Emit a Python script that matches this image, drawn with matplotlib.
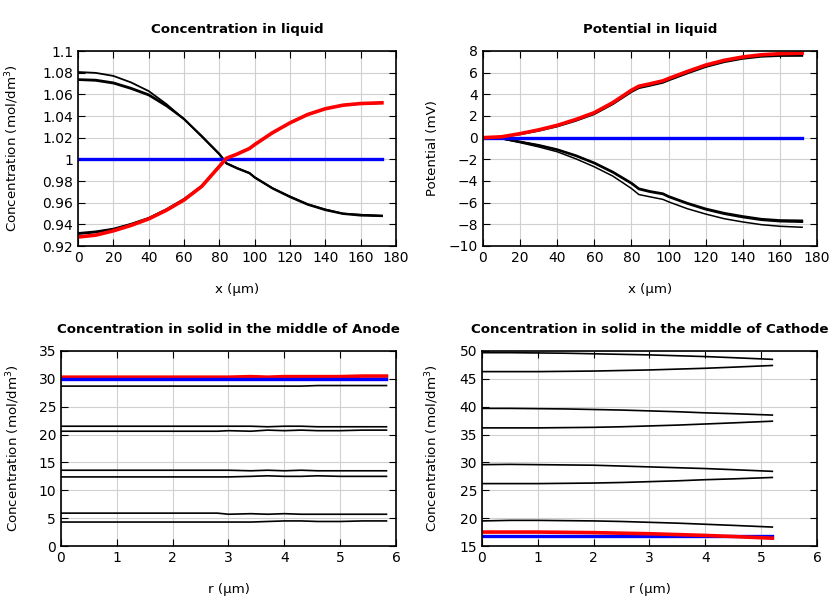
import matplotlib.pyplot as plt
import numpy as np

# --- liquid phase, x in um ---
x_liq = [0, 10, 20, 30, 40, 50, 60, 70, 80, 84, 90, 97, 100, 110, 120, 130, 140, 150, 160, 172]

conc_black_top = [1.0806, 1.0798, 1.0770, 1.0710, 1.0630, 1.0510, 1.0370, 1.0215, 1.0050, 0.9965, 0.9920, 0.9875, 0.9835, 0.9735, 0.9657, 0.9586, 0.9537, 0.9500, 0.9488, 0.9480]
conc_black_a = [1.0740, 1.0735, 1.0710, 1.0660, 1.0600, 1.0500, 1.0375, 1.0215, 1.0050, 0.9965, 0.9920, 0.9875, 0.9835, 0.9735, 0.9657, 0.9586, 0.9537, 0.9500, 0.9488, 0.9480]
conc_black_b = [1.0732, 1.0725, 1.0700, 1.0650, 1.0590, 1.0490, 1.0370, 1.0210, 1.0045, 0.9960, 0.9915, 0.9870, 0.9830, 0.9730, 0.9650, 0.9580, 0.9530, 0.9495, 0.9480, 0.9475]
conc_black_up1 = [0.9320, 0.9335, 0.9360, 0.9405, 0.9460, 0.9540, 0.9635, 0.9755, 0.9940, 1.0012, 1.0050, 1.0100, 1.0136, 1.0245, 1.0337, 1.0414, 1.0467, 1.0500, 1.0515, 1.0520]
conc_black_up2 = [0.9310, 0.9325, 0.9355, 0.9400, 0.9455, 0.9535, 0.9630, 0.9752, 0.9938, 1.0010, 1.0048, 1.0098, 1.0134, 1.0243, 1.0335, 1.0412, 1.0465, 1.0498, 1.0513, 1.0518]
conc_red = [0.9283, 0.9300, 0.9340, 0.9390, 0.9450, 0.9530, 0.9625, 0.9750, 0.9935, 1.0010, 1.0048, 1.0100, 1.0136, 1.0245, 1.0337, 1.0414, 1.0467, 1.0500, 1.0515, 1.0522]
conc_blue = [1.0] * len(x_liq)

pot_red = [0.0, 0.08, 0.37, 0.72, 1.14, 1.68, 2.31, 3.24, 4.38, 4.75, 4.97, 5.25, 5.46, 6.10, 6.70, 7.14, 7.45, 7.65, 7.75, 7.80]
pot_black_up = [0.0, 0.06, 0.32, 0.64, 1.04, 1.56, 2.18, 3.10, 4.22, 4.58, 4.80, 5.08, 5.29, 5.93, 6.53, 6.98, 7.29, 7.48, 7.55, 7.56]
pot_black_lo1 = [0.0, -0.07, -0.37, -0.68, -1.08, -1.63, -2.31, -3.15, -4.17, -4.69, -4.94, -5.15, -5.40, -6.02, -6.55, -6.95, -7.25, -7.50, -7.62, -7.65]
pot_black_lo2 = [0.0, -0.08, -0.40, -0.72, -1.13, -1.69, -2.37, -3.22, -4.24, -4.76, -5.01, -5.22, -5.47, -6.09, -6.63, -7.04, -7.35, -7.60, -7.73, -7.78]
pot_black_lo3 = [0.0, -0.09, -0.46, -0.85, -1.30, -1.95, -2.69, -3.55, -4.69, -5.25, -5.46, -5.70, -5.92, -6.55, -7.05, -7.48, -7.78, -8.03, -8.18, -8.27]
pot_blue = [0.0] * len(x_liq)

# --- solid phase, r in um ---
r_an = [0, 1, 2, 2.8, 3.0, 3.4, 3.7, 4.0, 4.3, 4.6, 5.0, 5.4, 5.83]
an_black = [
    [28.7, 28.7, 28.7, 28.7, 28.7, 28.7, 28.7, 28.7, 28.7, 28.8, 28.8, 28.8, 28.8],
    [21.5, 21.5, 21.5, 21.5, 21.5, 21.5, 21.4, 21.5, 21.5, 21.4, 21.4, 21.4, 21.4],
    [20.6, 20.6, 20.6, 20.6, 20.7, 20.6, 20.8, 20.7, 20.8, 20.7, 20.7, 20.8, 20.8],
    [13.6, 13.6, 13.6, 13.6, 13.6, 13.5, 13.6, 13.5, 13.6, 13.5, 13.5, 13.5, 13.5],
    [12.4, 12.4, 12.4, 12.4, 12.4, 12.5, 12.6, 12.5, 12.5, 12.6, 12.5, 12.5, 12.5],
    [5.9, 5.9, 5.9, 5.9, 5.7, 5.8, 5.7, 5.8, 5.7, 5.7, 5.7, 5.7, 5.7],
    [4.3, 4.3, 4.3, 4.3, 4.3, 4.3, 4.4, 4.5, 4.5, 4.4, 4.4, 4.5, 4.5],
]
an_red = [30.3, 30.3, 30.3, 30.3, 30.3, 30.4, 30.3, 30.4, 30.4, 30.4, 30.4, 30.5, 30.5]
an_blue = [29.9] * len(r_an)

r_ca = [0, 0.5, 1, 1.5, 2, 2.5, 3, 3.5, 4, 4.5, 5.2]
ca_black = [
    [49.7, 49.7, 49.65, 49.6, 49.5, 49.4, 49.3, 49.15, 49.0, 48.8, 48.5],
    [46.3, 46.3, 46.3, 46.35, 46.4, 46.5, 46.6, 46.75, 46.9, 47.1, 47.4],
    [39.7, 39.7, 39.65, 39.6, 39.5, 39.4, 39.25, 39.1, 38.9, 38.75, 38.5],
    [36.2, 36.2, 36.2, 36.25, 36.3, 36.4, 36.55, 36.7, 36.9, 37.1, 37.4],
    [29.6, 29.65, 29.6, 29.55, 29.5, 29.35, 29.2, 29.05, 28.9, 28.7, 28.4],
    [26.2, 26.2, 26.2, 26.25, 26.3, 26.4, 26.55, 26.7, 26.9, 27.05, 27.3],
    [19.5, 19.6, 19.6, 19.55, 19.5, 19.4, 19.25, 19.1, 18.9, 18.7, 18.4],
]
ca_red = [17.5, 17.5, 17.5, 17.45, 17.4, 17.3, 17.2, 17.05, 16.9, 16.7, 16.4]
ca_blue = [16.8] * len(r_ca)

plt.rcParams['font.family'] = 'DejaVu Sans'
plt.rcParams['font.size'] = 9.6

fig = plt.figure(figsize=(8.4, 6), dpi=100)
ax1 = fig.add_axes([0.0929, 0.59, 0.3786, 0.325])
ax2 = fig.add_axes([0.575, 0.59, 0.3976, 0.325])
ax3 = fig.add_axes([0.0726, 0.09, 0.3988, 0.325])
ax4 = fig.add_axes([0.5738, 0.09, 0.3988, 0.325])


def style(ax, title, xlabel, ylabel, ypad):
    ax.set_title(title, fontweight='bold', fontsize=9.6, pad=13)
    ax.set_xlabel(xlabel, labelpad=13)
    ax.set_ylabel(ylabel, labelpad=ypad)
    ax.grid(True, color='#d0d0d0', linewidth=0.8)
    ax.set_axisbelow(True)
    ax.tick_params(direction='in', top=True, right=True, length=5, labelsize=10)
    for s in ax.spines.values():
        s.set_linewidth(1.2)


# concentration in liquid
for y in [conc_black_top, conc_black_a, conc_black_b, conc_black_up1, conc_black_up2]:
    ax1.plot(x_liq, y, color='black', lw=1.3)
ax1.plot(x_liq, conc_blue, color='blue', lw=2.4)
ax1.plot(x_liq, conc_red, color='red', lw=2.6)
ax1.set_xlim(0, 180)
ax1.set_ylim(0.92, 1.1)
ax1.set_xticks(range(0, 181, 20))
ax1.set_yticks(np.arange(0.92, 1.101, 0.02))
ax1.set_yticklabels(['0.92', '0.94', '0.96', '0.98', '1', '1.02', '1.04', '1.06', '1.08', '1.1'])
style(ax1, 'Concentration in liquid', 'x (µm)', 'Concentration (mol/dm$^3$)', 15)

# potential in liquid
for y in [pot_black_up, pot_black_lo1, pot_black_lo2]:
    ax2.plot(x_liq, y, color='black', lw=1.5)
ax2.plot(x_liq, pot_black_lo3, color='black', lw=1.1)
ax2.plot(x_liq, pot_blue, color='blue', lw=2.4)
ax2.plot(x_liq, pot_red, color='red', lw=2.6)
ax2.set_xlim(0, 180)
ax2.set_ylim(-10, 8)
ax2.set_xticks(range(0, 181, 20))
ax2.set_yticks(range(-10, 9, 2))
style(ax2, 'Potential in liquid', 'x (µm)', 'Potential (mV)', 7)

# solid, anode
for y in an_black:
    ax3.plot(r_an, y, color='black', lw=1.2)
ax3.plot(r_an, an_red, color='red', lw=2.6)
ax3.plot(r_an, an_blue, color='blue', lw=2.4)
ax3.set_xlim(0, 6)
ax3.set_ylim(0, 35)
ax3.set_yticks(range(0, 36, 5))
style(ax3, 'Concentration in solid in the middle of Anode', 'r (µm)', 'Concentration (mol/dm$^3$)', 12)

# solid, cathode
for y in ca_black:
    ax4.plot(r_ca, y, color='black', lw=1.2)
ax4.plot(r_ca, ca_blue, color='blue', lw=2.4)
ax4.plot(r_ca, ca_red, color='red', lw=2.6)
ax4.set_xlim(0, 6)
ax4.set_ylim(15, 50)
ax4.set_yticks(range(15, 51, 5))
style(ax4, 'Concentration in solid in the middle of Cathode', 'r (µm)', 'Concentration (mol/dm$^3$)', 13)

fig.savefig('out.png', dpi=100)
